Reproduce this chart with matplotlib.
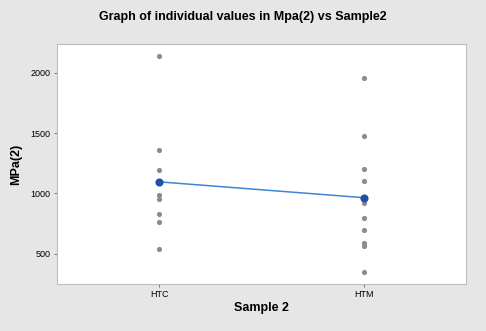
import numpy as np
import matplotlib.pyplot as plt

plt.rcParams['font.family'] = ['Liberation Sans', 'DejaVu Sans']

# Individual values
groups = ['HTC', 'HTM']
htc_values = [2141, 1357, 1191, 990, 955, 826, 760, 540]
htm_values = [1953, 1478, 1199, 1104, 922, 793, 696, 584, 559, 350]
y_ticks = [500, 1000, 1500, 2000]

fig = plt.figure(figsize=(4.86, 3.31), dpi=100, facecolor='#e6e6e6')
ax = fig.add_axes([0.117, 0.142, 0.842, 0.725])
ax.set_facecolor('white')

series = [htc_values, htm_values]
means = [np.mean(v) for v in series]
for i, vals in enumerate(series, start=1):
    ax.scatter([i] * len(vals), vals, s=14, color='#8c8c8c', zorder=2, linewidths=0)

ax.plot([1, 2], means, color='#3f84d6', lw=1.1, zorder=3)
ax.scatter([1, 2], means, s=34, color='#1e50a8', zorder=4, linewidths=0)

ax.set_xlim(0.5, 2.5)
ax.set_ylim(248, 2238)
ax.set_xticks([1, 2])
ax.set_xticklabels(groups)
ax.set_yticks(y_ticks)
ax.tick_params(labelsize=6.5, length=2.5, width=0.6, color='#666666', pad=2)

for s in ax.spines.values():
    s.set_color('#bdbdbd')
    s.set_linewidth(0.8)

# title is centred on the whole figure, not the axes
fig.text(0.5, 0.948, 'Graph of individual values in Mpa(2) vs Sample2', fontsize=9,
         fontweight='bold', ha='center', va='center')
ax.set_xlabel('Sample 2', fontsize=9, fontweight='bold', labelpad=2)
ax.set_ylabel('MPa(2)', fontsize=9, fontweight='bold', labelpad=6)

fig.savefig('out.png', dpi=100, facecolor=fig.get_facecolor())
